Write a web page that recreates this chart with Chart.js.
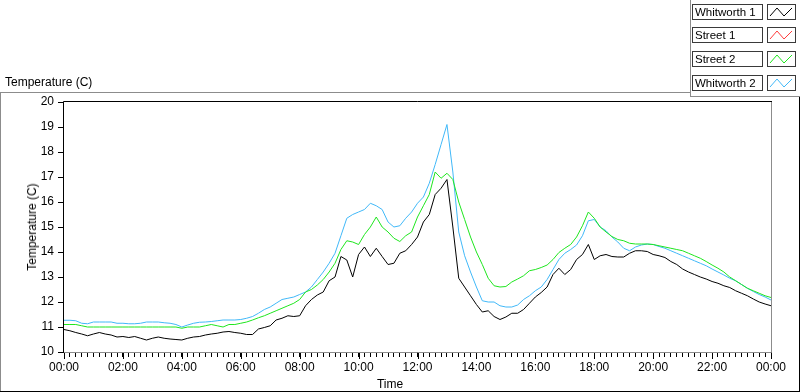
<!DOCTYPE html>
<html>
<head>
<meta charset="utf-8">
<script src="https://cdn.jsdelivr.net/npm/chart.js@4.4.1/dist/chart.umd.min.js"></script>
<style>
  body { margin: 0; background: #fff; font-family: "Liberation Sans", Arial, sans-serif; font-size: 12px; color: #000; }
  #wrap { position: relative; width: 800px; height: 392px; overflow: hidden; }
  #chart { position: absolute; left: 0; top: 0; }
  .rule { position: absolute; }
  .txt { position: absolute; white-space: nowrap; line-height: 14px; }
  .lgName { position: absolute; box-sizing: border-box; border: 1px solid #3a3a3a; padding-left: 2px; font-size: 11.5px; line-height: 14px; white-space: nowrap; overflow: hidden; }
  .lgSwatch { position: absolute; box-sizing: border-box; border: 1px solid #3a3a3a; }
</style>
</head>
<body>
<div id="wrap">
  <canvas id="chart" width="800" height="392"></canvas>
  <div class="rule" style="left:0;top:92px;width:690px;height:1px;background:#8c8c8c"></div>
  <div class="rule" style="left:0;top:92px;width:1px;height:300px;background:#8c8c8c"></div>
  <div class="rule" style="left:0;top:391px;width:800px;height:1px;background:#000"></div>
  <div class="rule" style="left:799px;top:96px;width:1px;height:296px;background:#000"></div>
  <div class="rule" style="left:690px;top:0;width:1px;height:97px;background:#8c8c8c"></div>
  <div class="rule" style="left:690px;top:96px;width:110px;height:1px;background:#8c8c8c"></div>
  <div class="txt" style="left:5px;top:75px">Temperature (C)</div>
  <div class="txt" style="left:32px;top:227px;transform:translate(-50%,-50%) rotate(-90deg)">Temperature (C)</div>
  <div class="txt" style="left:390px;top:377px;transform:translateX(-50%)">Time</div>
  <div id="legend"></div>
</div>
<script>
// sample times, minutes after midnight (every 12 min)
const minutes = [
  0, 12, 24, 36, 48, 60, 72, 84, 96, 108, 120, 132, 144, 156, 168, 180, 192, 204, 216, 228,
  240, 252, 264, 276, 288, 300, 312, 324, 336, 348, 360, 372, 384, 396, 408, 420, 432, 444, 456, 468,
  480, 492, 504, 516, 528, 540, 552, 564, 576, 588, 600, 612, 624, 636, 648, 660, 672, 684, 696, 708,
  720, 732, 744, 756, 768, 780, 792, 804, 816, 828, 840, 852, 864, 876, 888, 900, 912, 924, 936, 948,
  960, 972, 984, 996, 1008, 1020, 1032, 1044, 1056, 1068, 1080, 1092, 1104, 1116, 1128, 1140, 1152, 1164, 1176, 1188,
  1200, 1212, 1224, 1236, 1248, 1260, 1272, 1284, 1296, 1308, 1320, 1332, 1344, 1356, 1368, 1380, 1392, 1404, 1416, 1428,
  1440
];

const whitworth1 = [
  10.9, 10.85, 10.78, 10.72, 10.65,  10.72, 10.78, 10.72, 10.68, 10.6,
  10.62, 10.58, 10.62, 10.55, 10.48,  10.55, 10.6, 10.55, 10.52, 10.5,
  10.48, 10.55, 10.6, 10.62, 10.68,  10.72, 10.75, 10.8, 10.82, 10.78,
  10.75, 10.7, 10.7, 10.92, 10.98,  11.05, 11.28, 11.35, 11.45, 11.42,
  11.45, 11.85, 12.1, 12.28, 12.4,  12.85, 13.0, 13.82, 13.68, 13.0,
  13.9, 14.2, 13.82, 14.15, 13.82,  13.5, 13.55, 13.95, 14.05, 14.3,
  14.6, 15.2, 15.5, 16.3, 16.55,  16.9, 15.0, 12.95, 12.6, 12.25,
  11.9, 11.6, 11.65, 11.42, 11.3,  11.4, 11.55, 11.55, 11.7, 11.95,
  12.2, 12.38, 12.6, 13.1, 13.35,  13.1, 13.3, 13.7, 13.9, 14.3,
  13.7, 13.85, 13.9, 13.82, 13.8,  13.8, 13.95, 14.05, 14.05, 14.02,
  13.9, 13.85, 13.78, 13.62, 13.5,  13.32, 13.2, 13.1, 13.0, 12.92,
  12.82, 12.75, 12.65, 12.58, 12.45,  12.35, 12.25, 12.12, 12.0, 11.92,
  11.85
];

// Street 1 has no visible trace in the picture
const street1 = [];

const street2 = [
  11.1, 11.1, 11.1, 11.05, 11.0,  11.0, 11.0, 11.0, 11.0, 11.0,
  11.0, 11.0, 11.0, 11.0, 11.0,  11.0, 11.0, 11.0, 11.0, 11.0,
  10.95, 11.0, 11.0, 11.0, 11.05,  11.1, 11.05, 11.0, 11.1, 11.1,
  11.15, 11.2, 11.28, 11.37, 11.45,  11.55, 11.65, 11.75, 11.85, 11.95,
  12.1, 12.4, 12.5, 12.68, 12.9,  13.2, 13.55, 14.1, 14.45, 14.4,
  14.3, 14.7, 15.0, 15.4, 15.0,  14.8, 14.55, 14.42, 14.65, 14.8,
  15.4, 15.85, 16.3, 17.2, 16.95,  17.15, 16.9, 16.0, 15.3, 14.6,
  14.0, 13.5, 12.95, 12.65, 12.6,  12.62, 12.8, 12.92, 13.05, 13.25,
  13.3, 13.38, 13.48, 13.7, 13.98,  14.15, 14.3, 14.6, 15.05, 15.6,
  15.35, 15.0, 14.8, 14.62, 14.5,  14.45, 14.35, 14.32, 14.32, 14.32,
  14.3, 14.25, 14.2, 14.15, 14.1,  14.05, 13.95, 13.85, 13.75, 13.62,
  13.48, 13.35, 13.2, 13.0, 12.85,  12.7, 12.55, 12.45, 12.35, 12.25,
  12.18
];

const whitworth2 = [
  11.27, 11.27, 11.25, 11.15, 11.13,  11.2, 11.2, 11.2, 11.2, 11.15,
  11.15, 11.13, 11.13, 11.15, 11.2,  11.2, 11.2, 11.17, 11.15, 11.1,
  11.0, 11.08, 11.15, 11.19, 11.2,  11.22, 11.25, 11.28, 11.28, 11.28,
  11.3, 11.35, 11.42, 11.55, 11.7,  11.8, 11.95, 12.1, 12.15, 12.2,
  12.3, 12.4, 12.6, 12.9, 13.2,  13.55, 13.95, 14.65, 15.35, 15.5,
  15.6, 15.7, 15.95, 15.85, 15.7,  15.2, 15.0, 15.05, 15.35, 15.6,
  15.95, 16.2, 16.75, 17.5, 18.3,  19.1, 17.2, 14.8, 13.85, 13.2,
  12.6, 12.05, 12.0, 12.0, 11.85,  11.8, 11.8, 11.88, 12.1, 12.25,
  12.45, 12.6, 12.9, 13.3, 13.7,  13.95, 14.1, 14.28, 14.65, 15.25,
  15.3, 15.0, 14.85, 14.6, 14.4,  14.15, 14.05, 14.2, 14.28, 14.32,
  14.3, 14.22, 14.15, 14.05, 13.95,  13.85, 13.75, 13.65, 13.55, 13.45,
  13.32, 13.2, 13.08, 12.95, 12.85,  12.7, 12.55, 12.42, 12.3, 12.2,
  12.08
];

const seriesNames = ['Whitworth 1', 'Street 1', 'Street 2', 'Whitworth 2'];
const seriesValues = [whitworth1, street1, street2, whitworth2];
const seriesColors = ['#000000', '#ff3c3c', '#1ee61e', '#40b8f8'];

const FONT = { family: '"Liberation Sans", Arial, sans-serif', size: 12 };

function fmtTime(m) {
  const h = Math.floor(m / 60) % 24;
  return (h < 10 ? '0' : '') + h + ':00';
}

// HTML legend with little zigzag swatches
function buildLegend() {
  const box = document.getElementById('legend');
  const rowTops = [4, 27, 51, 75];
  seriesNames.forEach((name, i) => {
    const lab = document.createElement('div');
    lab.className = 'lgName';
    lab.style.cssText = 'left:692px;top:' + rowTops[i] + 'px;width:71px;height:16px';
    lab.textContent = name;
    box.appendChild(lab);
    const sw = document.createElement('div');
    sw.className = 'lgSwatch';
    sw.style.cssText = 'left:767px;top:' + rowTops[i] + 'px;width:29px;height:16px';
    sw.innerHTML = '<svg width="27" height="14"><polyline points="2,11 9,3 16,11 24,3" fill="none" stroke="' +
      seriesColors[i] + '" stroke-width="1"/></svg>';
    box.appendChild(sw);
  });
}

// sunken plot frame: black top/left, grey right/bottom
const plotFrame = {
  id: 'plotFrame',
  afterDraw(chart) {
    const { ctx, chartArea: a } = chart;
    ctx.save();
    ctx.lineWidth = 1;
    ctx.strokeStyle = '#000';
    ctx.beginPath();
    ctx.moveTo(a.left - 0.5, a.bottom + 1);
    ctx.lineTo(a.left - 0.5, a.top - 0.5);
    ctx.lineTo(a.right + 1, a.top - 0.5);
    ctx.stroke();
    ctx.strokeStyle = '#8c8c8c';
    ctx.beginPath();
    ctx.moveTo(a.right + 0.5, a.top);
    ctx.lineTo(a.right + 0.5, a.bottom + 0.5);
    ctx.lineTo(a.left, a.bottom + 0.5);
    ctx.stroke();
    // longer marks at the labelled hours
    const xs = chart.scales.x;
    ctx.strokeStyle = '#000';
    ctx.beginPath();
    for (let m = 0; m <= 1440; m += 120) {
      const px = Math.round(xs.getPixelForValue(m)) + 0.5;
      ctx.moveTo(px, a.bottom + 1);
      ctx.lineTo(px, a.bottom + 7);
    }
    ctx.stroke();
    ctx.restore();
  }
};

function createChart() {
  const ctx = document.getElementById('chart');
  const datasets = seriesNames.map((name, i) => ({
    label: name,
    data: seriesValues[i].map((v, k) => ({ x: minutes[k], y: v })),
    borderColor: seriesColors[i],
    backgroundColor: seriesColors[i],
    borderWidth: 1,
    pointRadius: 0,
    tension: 0,
    fill: false
  }));

  new Chart(ctx.getContext('2d'), {
    type: 'line',
    data: { datasets: datasets },
    options: {
      responsive: false,
      animation: false,
      events: [],
      layout: { padding: { top: 102, right: 29, left: 0, bottom: 0 } },
      plugins: { legend: { display: false }, tooltip: { enabled: false } },
      scales: {
        x: {
          type: 'linear',
          min: 0,
          max: 1440,
          afterFit(s) { s.height = 40; },
          border: { display: false },
          grid: { drawOnChartArea: false, drawTicks: true, tickLength: 5, color: '#000' },
          ticks: {
            stepSize: 12,
            autoSkip: false,
            maxRotation: 0,
            padding: 3,
            color: '#000',
            font: FONT,
            callback: v => (v % 120 === 0 ? fmtTime(v) : '')
          }
        },
        y: {
          min: 10,
          max: 20,
          afterFit(s) { s.width = 64; },
          border: { display: false },
          grid: { drawOnChartArea: false, drawTicks: true, tickLength: 6, color: '#000' },
          ticks: { stepSize: 1, padding: 4, color: '#000', font: FONT }
        }
      }
    },
    plugins: [plotFrame]
  });
}

buildLegend();
createChart();
</script>
</body>
</html>
